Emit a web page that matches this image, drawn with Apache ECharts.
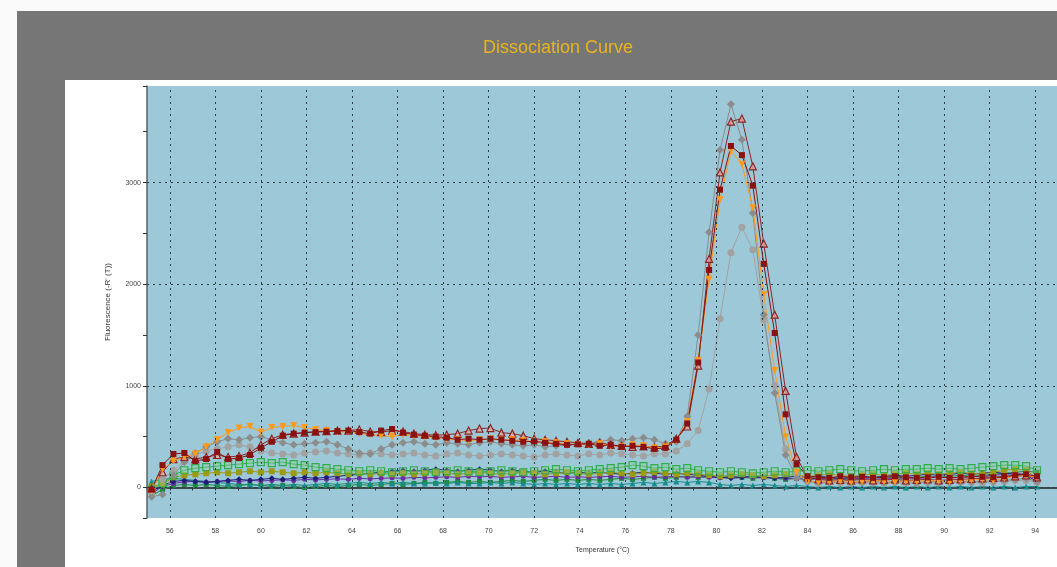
<!DOCTYPE html>
<html>
<head>
<meta charset="utf-8">
<script src="https://cdn.jsdelivr.net/npm/echarts@6/dist/echarts.min.js"></script>
<style>
  html, body { margin: 0; padding: 0; background: #fafafa; overflow: hidden; }
  #frame { position: absolute; left: 17px; top: 11px; width: 1060px; height: 570px; background: #767676; }
  #panel { position: absolute; left: 65px; top: 80px; width: 1000px; height: 500px; background: #ffffff; }
  #chart { position: absolute; left: 0; top: 0; width: 1061px; height: 567px; }
</style>
</head>
<body>
<div id="frame"></div>
<div id="panel"></div>
<div id="chart"></div>
<script>
// temperature of each reading (°C)
var temps = [
  55.20, 55.68, 56.16, 56.64, 57.12, 57.60, 58.08, 58.56, 59.04, 59.52,
  60.00, 60.48, 60.96, 61.44, 61.92, 62.40, 62.88, 63.36, 63.84, 64.32,
  64.80, 65.28, 65.76, 66.24, 66.72, 67.20, 67.68, 68.16, 68.64, 69.12,
  69.60, 70.08, 70.56, 71.04, 71.52, 72.00, 72.48, 72.96, 73.44, 73.92,
  74.40, 74.88, 75.36, 75.84, 76.32, 76.80, 77.28, 77.76, 78.24, 78.72,
  79.20, 79.68, 80.16, 80.64, 81.12, 81.60, 82.08, 82.56, 83.04, 83.52,
  84.00, 84.48, 84.96, 85.44, 85.92, 86.40, 86.88, 87.36, 87.84, 88.32,
  88.80, 89.28, 89.76, 90.24, 90.72, 91.20, 91.68, 92.16, 92.64, 93.12,
  93.60, 94.08
];

// high (product) wells
var wellA = [
  -20, 220, 330, 340, 260, 280, 350, 280, 290, 320,
  390, 450, 510, 530, 540, 545, 550, 555, 560, 545,
  530, 560, 575, 540, 520, 510, 500, 490, 470, 480,
  470, 480, 470, 460, 450, 455, 440, 430, 420, 425,
  430, 410, 420, 400, 410, 400, 380, 390, 470, 630,
  1230, 2140, 2930, 3360, 3270, 2970, 2200, 1520, 720, 230,
  110, 100, 95, 110, 100, 105, 95, 100, 110, 100,
  95, 100, 105, 95, 100, 110, 105, 100, 110, 120,
  130, 110
];
var wellB = [
  -40, 180, 260, 300, 330, 400, 470, 540, 585, 600,
  545, 590, 600, 610, 590, 570, 560, 545, 550, 530,
  520, 510, 500, 520, 510, 500, 490, 480, 470, 460,
  470, 480, 465, 470, 460, 455, 450, 440, 430, 420,
  420, 430, 410, 400, 420, 410, 390, 400, 460, 650,
  1250, 2050, 2830, 3310, 3180, 2750, 1900, 1150, 500, 150,
  60, 55, 60, 65, 55, 60, 70, 60, 55, 65,
  60, 70, 65, 60, 70, 75, 80, 70, 90, 110,
  120, 100
];
var wellC = [
  -10, 150, 280, 300, 280, 300, 320, 300, 310, 340,
  420, 480, 520, 530, 540, 550, 555, 560, 560, 570,
  550, 545, 560, 550, 530, 520, 515, 520, 530, 560,
  580, 585, 540, 530, 510, 480, 470, 460, 450, 440,
  430, 440, 420, 410, 400, 405, 395, 410, 480, 600,
  1200, 2250, 3100, 3600, 3630, 3160, 2400, 1700, 950, 300,
  100, 80, 70, 75, 70, 80, 70, 75, 80, 70,
  75, 80, 70, 75, 80, 85, 90, 95, 100, 110,
  120, 100
];
var wellD = [
  -90, -70, 120, 250, 340, 400, 450, 480, 470, 490,
  500, 470, 440, 420, 430, 440, 450, 420, 380, 340,
  330, 380, 420, 440, 450, 430, 420, 440, 430, 420,
  440, 450, 430, 420, 410, 420, 400, 410, 420, 430,
  440, 450, 470, 460, 480, 490, 470, 430, 450, 700,
  1500, 2510, 3320, 3770, 3420, 2700, 1700, 930, 320, 90,
  60, 50, 55, 60, 50, 55, 60, 50, 55, 60,
  50, 60, 55, 50, 60, 55, 65, 60, 70, 80,
  90, 60
];
var wellE = [
  -50, 80, 170, 260, 320, 360, 380, 400, 420, 400,
  360, 340, 330, 320, 340, 350, 360, 340, 330, 320,
  340, 330, 320, 330, 340, 320, 310, 330, 340, 320,
  310, 320, 330, 320, 310, 300, 320, 330, 320, 310,
  330, 320, 340, 330, 320, 310, 330, 330, 360, 430,
  560, 970, 1660, 2310, 2560, 2340, 1650, 1000, 380, 140,
  60, 40, 50, 45, 40, 50, 45, 40, 50, 45,
  40, 50, 45, 50, 55, 50, 45, 55, 60, 70,
  70, 50
];

// low (no template) wells
var wellG = [
  -20, 40, 120, 170, 190, 200, 210, 220, 230, 240,
  250, 240, 250, 230, 220, 200, 190, 180, 170, 160,
  170, 160, 150, 160, 170, 160, 150, 160, 170, 160,
  150, 160, 170, 160, 150, 160, 170, 180, 170, 160,
  170, 180, 190, 200, 220, 210, 190, 200, 180, 190,
  170, 160, 150, 160, 150, 140, 150, 160, 150, 160,
  170, 160, 170, 180, 170, 160, 170, 180, 170, 180,
  180, 190, 180, 190, 180, 190, 200, 210, 220, 220,
  210, 170
];
var wellH = [
  10, 30, 100, 120, 130, 140, 150, 140, 150, 160,
  150, 160, 150, 140, 150, 140, 150, 140, 130, 140,
  130, 140, 130, 140, 130, 140, 150, 140, 130, 140,
  150, 140, 130, 140, 150, 140, 130, 140, 150, 140,
  130, 140, 150, 140, 130, 140, 150, 140, 130, 140,
  130, 120, 110, 120, 130, 120, 110, 120, 130, 120,
  110, 120, 130, 120, 110, 120, 130, 120, 130, 140,
  130, 140, 130, 140, 150, 140, 130, 150, 170, 180,
  170, 90
];
var wellI = [
  -40, 20, 60, 70, 60, 50, 60, 70, 80, 70,
  80, 90, 80, 90, 100, 90, 100, 110, 120, 130,
  140, 150, 160, 170, 160, 170, 180, 170, 160, 170,
  180, 170, 160, 170, 160, 150, 160, 150, 140, 150,
  140, 150, 140, 130, 140, 150, 140, 130, 140, 130,
  120, 110, 100, 90, 100, 110, 100, 90, 100, 110,
  100, 110, 100, 90, 100, 110, 100, 110, 120, 110,
  120, 130, 120, 130, 140, 130, 140, 150, 140, 130,
  120, 60
];
var wellJ = [
  -60, 10, 40, 55, 60, 55, 60, 65, 60, 70,
  65, 70, 75, 70, 80, 75, 80, 85, 80, 90,
  85, 90, 95, 90, 100, 95, 100, 105, 100, 110,
  105, 110, 100, 105, 110, 100, 105, 110, 100, 105,
  100, 105, 110, 100, 105, 110, 100, 105, 110, 100,
  105, 100, 95, 100, 105, 100, 95, 100, 90, 85,
  80, 85, 90, 80, 85, 90, 80, 85, 90, 95,
  90, 95, 100, 95, 100, 105, 110, 120, 130, 140,
  130, 80
];
var wellK = [
  60, 80, 90, 80, 70, 60, 50, 40, 30, 30,
  20, 30, 20, 30, 20, 30, 40, 30, 40, 50,
  40, 50, 40, 50, 40, 40, 50, 40, 50, 40,
  40, 50, 40, 50, 40, 30, 40, 30, 40, 30,
  40, 30, 40, 30, 40, 50, 40, 50, 60, 50,
  60, 50, 30, 20, 30, 20, 30, 20, 10, 20,
  10, 0, 10, 0, 10, 0, 10, 0, 10, 0,
  10, 0, 10, 0, 10, 0, 10, 0, 10, 0,
  10, 10
];
var wellL = [
  -80, -20, 20, 30, 20, 30, 20, 10, 20, 30,
  20, 10, 20, 10, 0, 10, 20, 10, 20, 30,
  20, 30, 40, 30, 40, 50, 40, 50, 60, 50,
  60, 50, 60, 70, 60, 70, 80, 70, 80, 70,
  80, 70, 80, 90, 80, 90, 100, 90, 100, 110,
  100, 110, 100, 110, 100, 90, 100, 90, 80, 90,
  80, 90, 80, 90, 80, 90, 100, 90, 100, 90,
  100, 110, 100, 110, 120, 110, 120, 130, 140, 150,
  160, 150
];

// dotted grid positions
var xGridLines = [56, 58, 60, 62, 64, 66, 68, 70, 72, 74, 76, 78, 80, 82, 84, 86, 88, 90, 92, 94];
var yGridLines = [0, 1000, 2000, 3000];

function pairs(vals) {
  return temps.map(function (t, i) { return [t, vals[i]]; });
}

function well(vals, color, symbol, opts) {
  opts = opts || {};
  return {
    type: 'line',
    data: pairs(vals),
    symbol: symbol,
    symbolSize: opts.size || 6,
    symbolRotate: opts.rotate || 0,
    lineStyle: { color: color, width: 1 },
    itemStyle: {
      color: opts.fill || color,
      borderColor: color,
      borderWidth: opts.fill ? 1.2 : 0
    },
    emphasis: { disabled: true },
    z: opts.z || 2
  };
}

var chart = echarts.init(document.getElementById('chart'));

var option = {
  animation: false,
  backgroundColor: 'transparent',
  title: {
    text: 'Dissociation Curve',
    left: 478,
    top: 34,
    textStyle: { color: '#e8b41c', fontSize: 18, fontWeight: 'normal', fontFamily: 'Liberation Sans' }
  },
  grid: {
    left: 147, top: 86, right: 0, bottom: 49,
    show: true, backgroundColor: '#9dc8d8', borderWidth: 0
  },
  xAxis: {
    type: 'value',
    min: 55, max: 95, interval: 1,
    name: 'Temperature (°C)',
    nameLocation: 'middle',
    nameGap: 29,
    nameTextStyle: { fontSize: 7, color: '#333', fontFamily: 'Liberation Sans' },
    axisLine: { lineStyle: { color: '#3d4a52', width: 2 } },
    axisTick: { length: 3, lineStyle: { color: '#333' } },
    axisLabel: {
      fontSize: 7, color: '#444', margin: 10, fontFamily: 'Liberation Sans',
      formatter: function (v) { return v % 2 === 0 ? String(v) : ''; }
    },
    splitLine: { show: false }
  },
  yAxis: {
    type: 'value',
    min: -300, max: 3950,
    name: "Fluorescence (-R' (T))",
    nameLocation: 'middle',
    nameGap: 35,
    nameTextStyle: { fontSize: 8, color: '#333', fontFamily: 'Liberation Sans' },
    axisLine: { show: true, lineStyle: { color: '#55626a', width: 1.5 } },
    axisTick: { show: true, length: 4, lineStyle: { color: '#333' } },
    minorTick: { show: true, splitNumber: 2, length: 4, lineStyle: { color: '#333' } },
    axisLabel: {
      fontSize: 7, color: '#444', margin: 6, fontFamily: 'Liberation Sans',
      showMinLabel: false, showMaxLabel: false,
      formatter: function (v) { return String(v); }
    },
    splitLine: { show: false }
  },
  series: [
    {
      type: 'line', data: [], z: 1, silent: true,
      markLine: {
        silent: true, symbol: 'none', animation: false,
        label: { show: false },
        lineStyle: { type: [2, 4], color: '#2e3e46', width: 1 },
        data: xGridLines.map(function (v) { return { xAxis: v }; })
          .concat(yGridLines.map(function (v) { return { yAxis: v }; }))
      }
    },
    well(wellL, '#1f8a3a', 'rect', { size: 5 }),
    well(wellK, '#168c8c', 'triangle', { size: 6 }),
    well(wellJ, '#6a2fa0', 'circle', { size: 5 }),
    well(wellI, '#1d1d78', 'diamond', { size: 6 }),
    well(wellH, '#9b9a14', 'rect', { size: 6 }),
    well(wellG, '#2fae4a', 'rect', { size: 7, fill: 'rgba(150,210,150,0.35)' }),
    well(wellE, '#a2a2a2', 'circle', { size: 7 }),
    well(wellD, '#8c8c8c', 'diamond', { size: 8 }),
    well(wellC, '#8b2525', 'triangle', { size: 7, fill: 'rgba(235,170,160,0.7)' }),
    well(wellB, '#ff9a1a', 'triangle', { size: 7, rotate: 180 }),
    well(wellA, '#8b1010', 'rect', { size: 6 })
  ]
};

chart.setOption(option);
</script>
</body>
</html>
